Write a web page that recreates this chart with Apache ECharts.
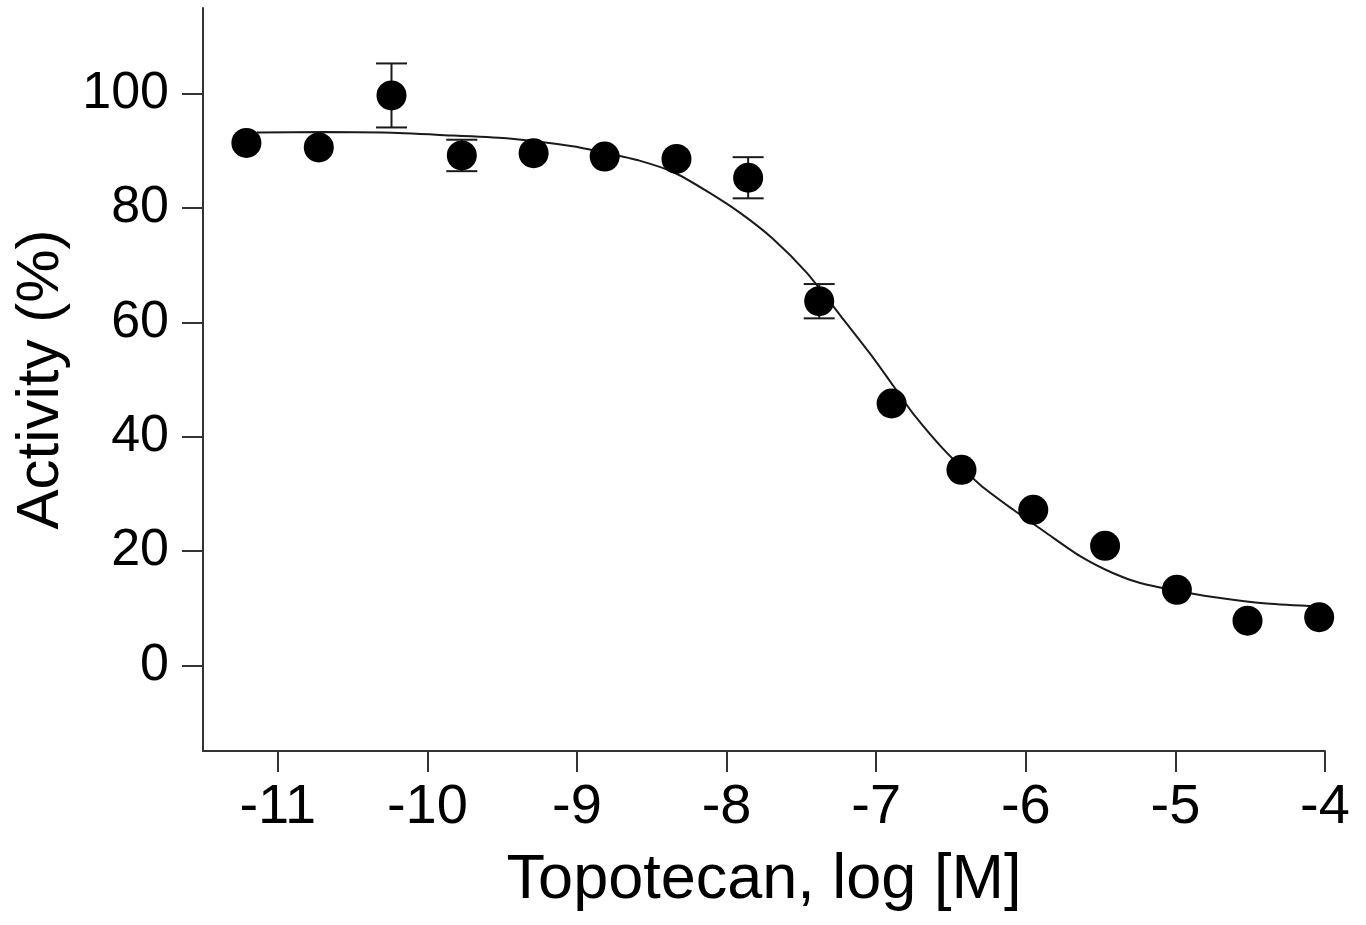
<!DOCTYPE html>
<html><head><meta charset="utf-8">
<script src="https://cdn.jsdelivr.net/npm/echarts@6/dist/echarts.min.js"></script>
<style>html,body{margin:0;padding:0;background:#fff}#c{width:1366px;height:925px}</style>
</head><body><div id="c"></div>
<script>
// Measured data (log concentration, activity %)
const logConc = [-11.21, -10.726, -10.24, -9.77, -9.29, -8.815, -8.335, -7.856, -7.381, -6.897, -6.43, -5.95, -5.47, -4.99, -4.518, -4.039];
const activity = [91.4, 90.6, 99.7, 89.2, 89.6, 89.0, 88.6, 85.3, 63.7, 45.8, 34.2, 27.2, 20.9, 13.2, 7.8, 8.4];
const errorBar = [null, null, 5.6, 2.75, null, null, null, 3.6, 3.0, null, null, null, null, null, null, null];
// Fitted curve
const fitX = [-11.14, -10.7, -10.3, -9.92, -9.47, -9.03, -8.80, -8.583, -8.358, -8.135, -7.912, -7.689, -7.465, -7.243, -7.02, -6.886, -6.752, -6.529, -6.306, -6.083, -5.86, -5.637, -5.415, -5.236, -5.0, -4.76, -4.39, -4.04];
const fitY = [93.2, 93.3, 93.2, 92.8, 92.2, 90.8, 89.6, 88.3, 86.3, 83.0, 79.2, 74.6, 68.7, 61.3, 53.8, 48.9, 44.0, 37.2, 31.6, 27.2, 23.1, 19.1, 16.1, 14.4, 13.1, 12.0, 10.8, 10.3];
const xTicks = [-11, -10, -9, -8, -7, -6, -5, -4];
const yTicks = [0, 20, 40, 60, 80, 100];

const FONT = 'Liberation Sans, Arial, sans-serif';
const AX = '#333';
const chart = echarts.init(document.getElementById('c'));

const points = logConc.map((x, i) => [x, activity[i]]);
const fit = fitX.map((x, i) => [x, fitY[i]]);
const errs = [];
logConc.forEach((x, i) => { if (errorBar[i] != null) errs.push([x, activity[i] - errorBar[i], activity[i] + errorBar[i]]); });

chart.setOption({
  animation: false,
  backgroundColor: '#fff',
  grid: { left: 203, right: 41, top: 8, bottom: 174 },
  xAxis: {
    type: 'value', min: -11.5, max: -4,
    name: 'Topotecan, log [M]', nameLocation: 'middle', nameGap: 98,
    nameTextStyle: { fontFamily: FONT, fontSize: 63, color: '#000' },
    splitLine: { show: false },
    axisLine: { show: true, onZero: false, lineStyle: { color: AX, width: 2 } },
    axisTick: { show: true, customValues: xTicks, length: 21, lineStyle: { color: AX, width: 2 } },
    axisLabel: { customValues: xTicks, margin: 29, fontFamily: FONT, fontSize: 56, color: '#000', formatter: v => String(v) }
  },
  yAxis: {
    type: 'value', min: -15, max: 115,
    name: 'Activity (%)', nameLocation: 'middle', nameGap: 130,
    nameTextStyle: { fontFamily: FONT, fontSize: 60, color: '#000' },
    splitLine: { show: false },
    axisLine: { show: true, onZero: false, lineStyle: { color: AX, width: 2 } },
    axisTick: { show: true, customValues: yTicks, length: 21, lineStyle: { color: AX, width: 2 } },
    axisLabel: { customValues: yTicks, margin: 34, fontFamily: FONT, fontSize: 52, color: '#000' }
  },
  series: [
    {
      type: 'line', data: fit, showSymbol: false, smooth: 0.25,
      lineStyle: { color: '#1a1a1a', width: 2 }, z: 2
    },
    {
      type: 'custom', data: errs, z: 3,
      renderItem: function (params, api) {
        const x = api.value(0), lo = api.value(1), hi = api.value(2);
        const a = api.coord([x, hi]), b = api.coord([x, lo]);
        const w = 15.5, st = { stroke: '#1a1a1a', lineWidth: 2 };
        return { type: 'group', children: [
          { type: 'line', shape: { x1: a[0], y1: a[1], x2: b[0], y2: b[1] }, style: st },
          { type: 'line', shape: { x1: a[0] - w, y1: a[1], x2: a[0] + w, y2: a[1] }, style: st },
          { type: 'line', shape: { x1: b[0] - w, y1: b[1], x2: b[0] + w, y2: b[1] }, style: st }
        ] };
      }
    },
    {
      type: 'scatter', data: points, symbol: 'circle', symbolSize: 30, z: 4,
      itemStyle: { color: '#000', opacity: 1 }
    }
  ]
});
</script></body></html>
